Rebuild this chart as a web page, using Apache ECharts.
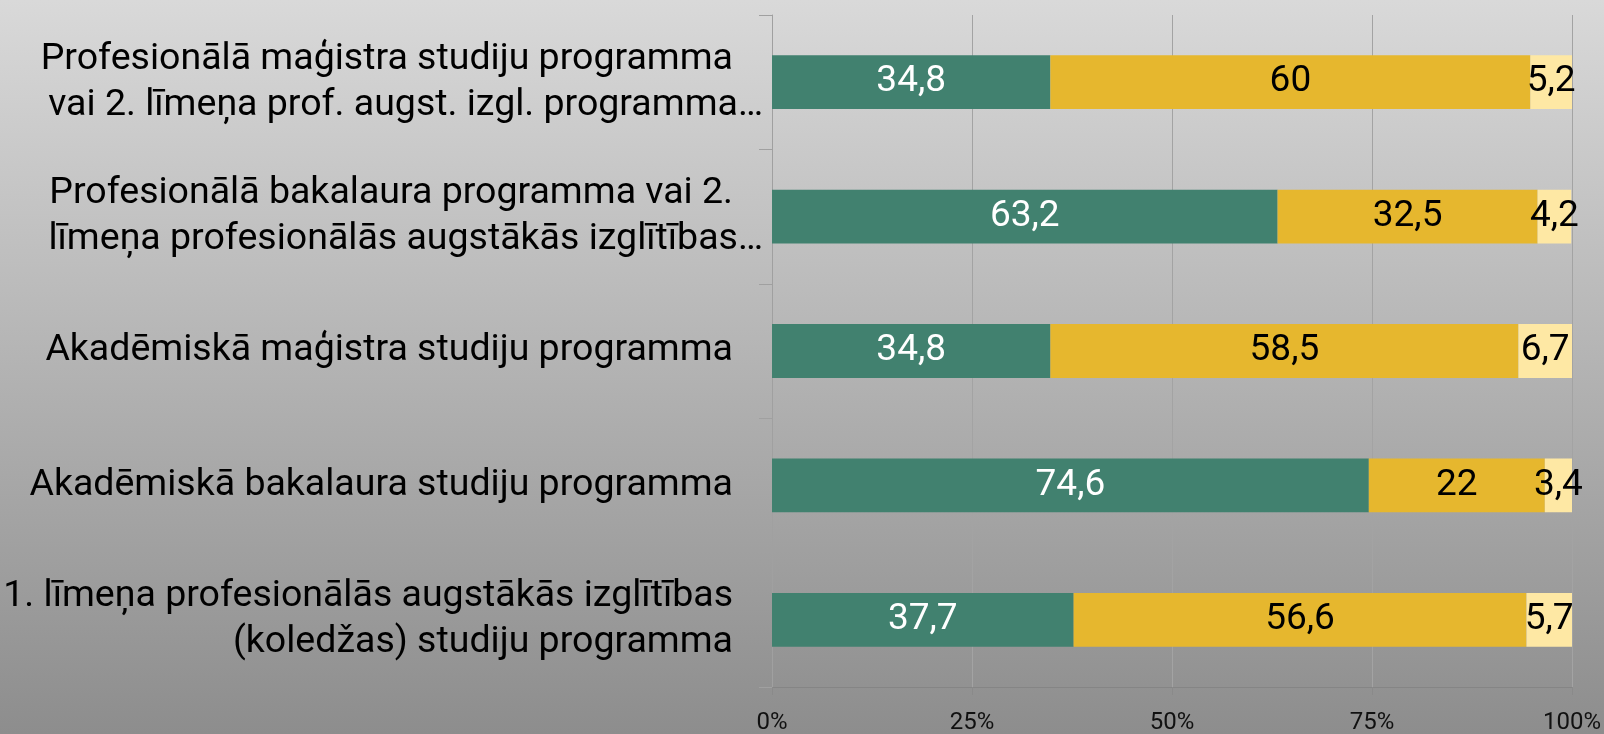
<!DOCTYPE html>
<html>
<head>
<meta charset="utf-8">
<script src="https://cdn.jsdelivr.net/npm/echarts@6/dist/echarts.min.js"></script>
<style>
  html, body { margin: 0; padding: 0; }
  #chart { width: 1604px; height: 734px; }
</style>
</head>
<body>
<div id="chart"></div>
<script>
// kategorijas no augšas uz leju
var programmas = [
	'Profesionālā maģistra studiju programma\nvai 2. līmeņa prof. augst. izgl. programma…',
	'Profesionālā bakalaura programma vai 2.\nlīmeņa profesionālās augstākās izglītības…',
	'Akadēmiskā maģistra studiju programma',
	'Akadēmiskā bakalaura studiju programma',
	'1. līmeņa profesionālās augstākās izglītības\n(koledžas) studiju programma'
];
var zals = [34.8, 63.2, 34.8, 74.6, 37.7];
var dzeltens = [60, 32.5, 58.5, 22, 56.6];
var gaiss = [5.2, 4.2, 6.7, 3.4, 5.7];
var procentuTicki = ['0%', '25%', '50%', '75%', '100%'];

var fontName = 'Roboto, "Noto Sans", sans-serif';
var elipse = 30; // cik tālu "…" izkaras pa labi

function komats(params) {
	return String(params.value).replace('.', ',');
}

// rindas bez "…" dabū atkāpi labajā pusē, lai "…" izkaras kā oriģinālā
function kategorija(value) {
	return value.split('\n').map(function (line) {
		if (line.charAt(line.length - 1) === '…') {
			return '{u|' + line + '}';
		}
		return '{t|' + line + '}';
	}).join('\n');
}

function serie(name, data, color, labelColor) {
	return {
		name: name,
		type: 'bar',
		stack: 'kopa',
		barWidth: '40%',
		data: data,
		itemStyle: { color: color },
		label: {
			show: true,
			position: 'inside',
			color: labelColor,
			fontFamily: fontName,
			fontSize: 37,
			formatter: komats
		}
	};
}

var chart = echarts.init(document.getElementById('chart'));

var option = {
	backgroundColor: {
		type: 'linear', x: 0, y: 0, x2: 0, y2: 1,
		colorStops: [
			{ offset: 0, color: '#d9d9d9' },
			{ offset: 1, color: '#8d8d8d' }
		]
	},
	animation: false,
	grid: { left: 772, right: 32, top: 15, bottom: 47, containLabel: false, outerBoundsMode: 'none' },
	xAxis: {
		type: 'value',
		min: 0,
		max: 100,
		interval: 25,
		axisLine: { show: true, lineStyle: { color: '#858585', width: 1 } },
		axisTick: { show: true, length: 8, lineStyle: { color: '#8a8a8a' } },
		splitLine: { show: true, lineStyle: { color: '#a3a3a3', width: 1 } },
		axisLabel: {
			color: '#111',
			fontFamily: fontName,
			fontSize: 24,
			margin: 24,
			formatter: function (v) { return procentuTicki[v / 25]; }
		}
	},
	yAxis: {
		type: 'category',
		inverse: true,
		data: programmas,
		axisLine: { show: true, lineStyle: { color: '#a0a0a0' } },
		axisTick: { show: true, length: 13, lineStyle: { color: '#a0a0a0' } },
		axisLabel: {
			color: '#000',
			fontFamily: fontName,
			fontSize: 37.5,
			lineHeight: 46,
			align: 'right',
			margin: 39 - elipse,
			formatter: kategorija,
			rich: {
				t: { fontFamily: fontName, fontSize: 37.5, lineHeight: 46, color: '#000', padding: [0, elipse, 0, 0] },
				u: { fontFamily: fontName, fontSize: 37.5, lineHeight: 46, color: '#000' }
			}
		}
	},
	series: [
		serie('zals', zals, '#41816f', '#ffffff'),
		serie('dzeltens', dzeltens, '#e6b72e', '#000000'),
		serie('gaiss', gaiss, '#fee8a4', '#000000')
	]
};

chart.setOption(option);
</script>
</body>
</html>
